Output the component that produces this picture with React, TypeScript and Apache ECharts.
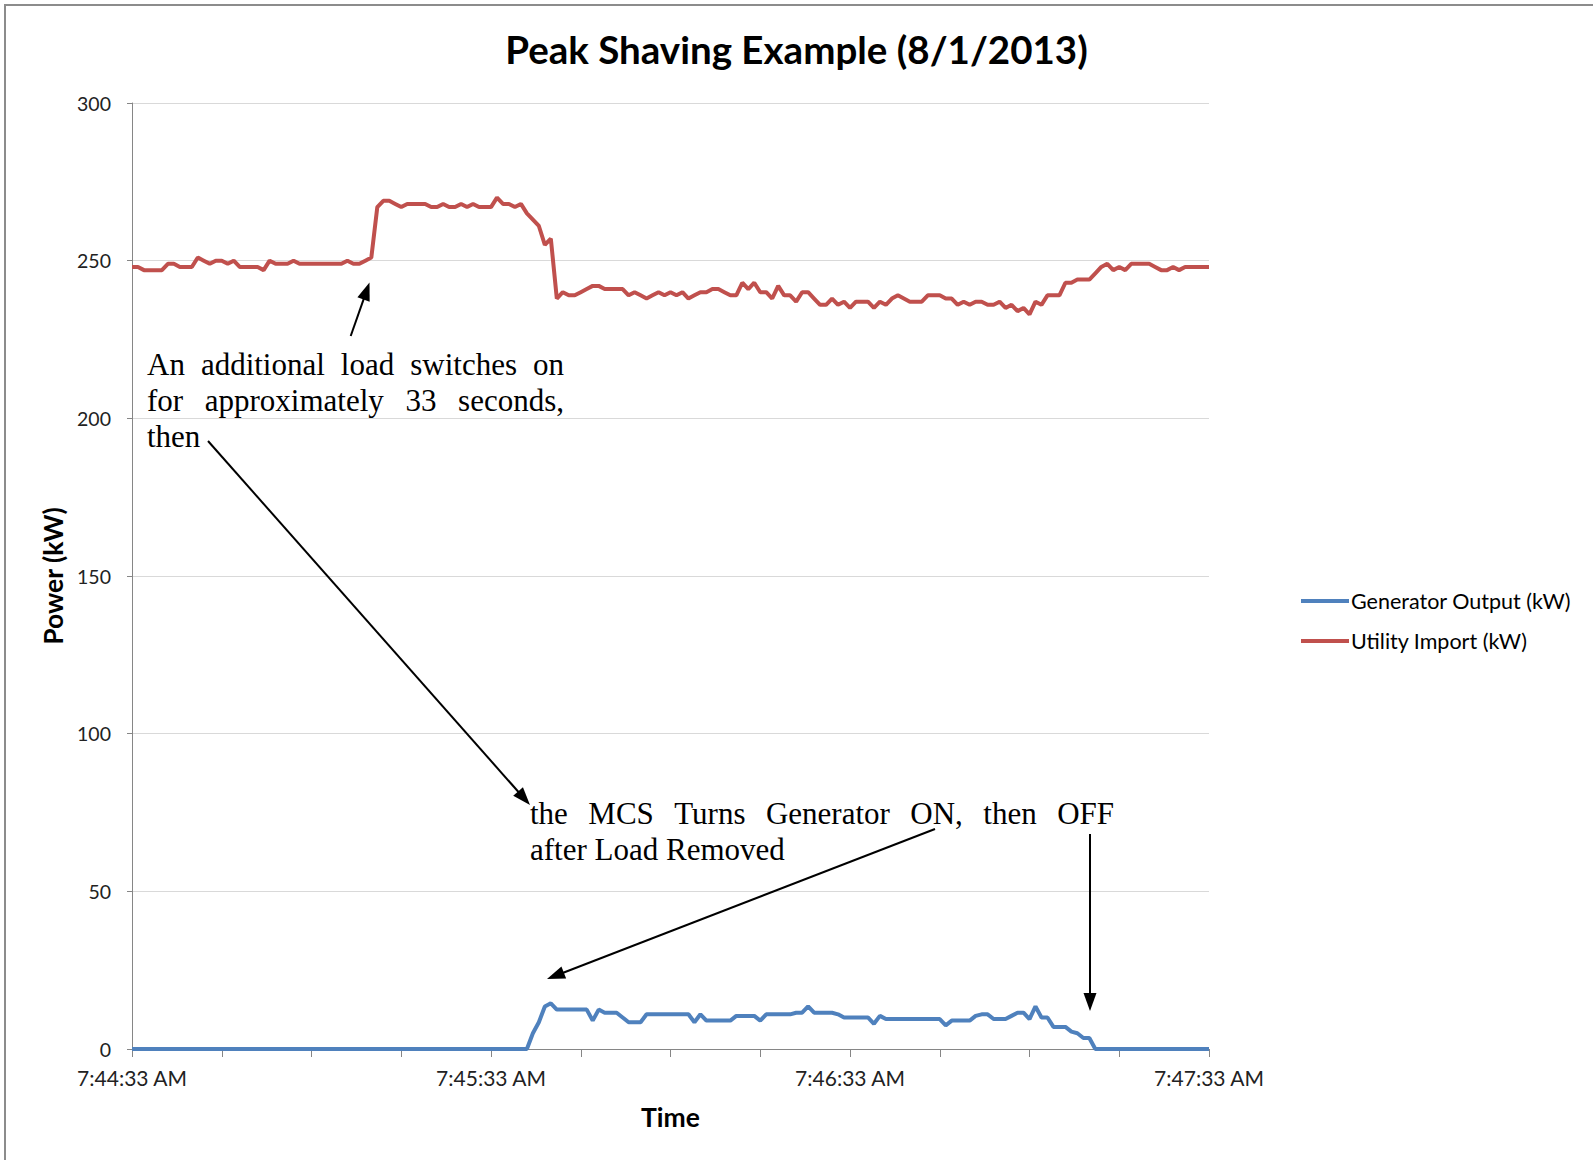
import React, { useEffect, useRef } from "react";
import * as echarts from "echarts";

// ---------- DATA ----------
const START_TIME = "7:44:33 AM";
const seconds: number[] = Array.from({ length: 181 }, (_, i) => i);

const generatorOutput: number[] = [
  0, 0, 0, 0, 0, 0, 0, 0, 0, 0, 0, 0, 0, 0, 0, 0, 0, 0, 0, 0,
  0, 0, 0, 0, 0, 0, 0, 0, 0, 0, 0, 0, 0, 0, 0, 0, 0, 0, 0, 0,
  0, 0, 0, 0, 0, 0, 0, 0, 0, 0, 0, 0, 0, 0, 0, 0, 0, 0, 0, 0,
  0, 0, 0, 0, 0, 0, 0, 5, 8.5, 13.5, 14.5, 12.5, 12.5, 12.5, 12.5, 12.5, 12.5, 9, 12.5, 11.5,
  11.5, 11.5, 10, 8.5, 8.5, 8.5, 11, 11, 11, 11, 11, 11, 11, 11, 8.5, 11, 9, 9, 9, 9,
  9, 10.5, 10.5, 10.5, 10.5, 9, 11, 11, 11, 11, 11, 11.5, 11.5, 13.5, 11.5, 11.5, 11.5, 11.5, 11, 10,
  10, 10, 10, 10, 8, 10.5, 9.5, 9.5, 9.5, 9.5, 9.5, 9.5, 9.5, 9.5, 9.5, 9.5, 7.5, 9, 9, 9,
  9, 10.5, 11, 11, 9.5, 9.5, 9.5, 10.5, 11.5, 11.5, 9.5, 13.5, 10, 10, 7, 7, 7, 5.5, 5, 3.5,
  3.5, 0, 0, 0, 0, 0, 0, 0, 0, 0, 0, 0, 0, 0, 0, 0, 0, 0, 0, 0,
  0,
];

const utilityImport: number[] = [
  248, 248, 247, 247, 247, 247, 249, 249, 248, 248, 248, 251, 250, 249, 250, 250, 249, 250, 248, 248,
  248, 248, 247, 250, 249, 249, 249, 250, 249, 249, 249, 249, 249, 249, 249, 249, 250, 249, 249, 250,
  251, 267, 269, 269, 268, 267, 268, 268, 268, 268, 267, 267, 268, 267, 267, 268, 267, 268, 267, 267,
  267, 270, 268, 268, 267, 268, 265, 263, 261, 255, 257, 238, 240, 239, 239, 240, 241, 242, 242, 241,
  241, 241, 241, 239, 240, 239, 238, 239, 240, 239, 240, 239, 240, 238, 239, 240, 240, 241, 241, 240,
  239, 239, 243, 241, 243, 240, 240, 238, 242, 239, 239, 237, 240, 240, 238, 236, 236, 238, 236, 237,
  235, 237, 237, 237, 235, 237, 236, 238, 239, 238, 237, 237, 237, 239, 239, 239, 238, 238, 236, 237,
  236, 237, 237, 236, 236, 237, 235, 236, 234, 235, 233, 237, 236, 239, 239, 239, 243, 243, 244, 244,
  244, 246, 248, 249, 247, 248, 247, 249, 249, 249, 249, 248, 247, 247, 248, 247, 248, 248, 248, 248,
  248,
];

const yTicks: number[] = [0, 50, 100, 150, 200, 250, 300];

const note1Lines: string[] = [
  "An additional load switches on",
  "for approximately 33 seconds,",
  "then",
];
const note2Lines: string[] = [
  "the MCS Turns Generator ON, then OFF",
  "after Load Removed",
];

// ---------- HELPERS ----------
function parseStart(s: string): number {
  const [time, ap] = s.split(" ");
  const [h, m, sec] = time.split(":").map(Number);
  let hh = h % 12;
  if (ap === "PM") hh += 12;
  return hh * 3600 + m * 60 + sec;
}
function fmtTime(total: number): string {
  let h = Math.floor(total / 3600);
  const m = Math.floor((total % 3600) / 60);
  const s = total % 60;
  const ap = h >= 12 ? "PM" : "AM";
  h = h % 12;
  if (h === 0) h = 12;
  return `${h}:${String(m).padStart(2, "0")}:${String(s).padStart(2, "0")} ${ap}`;
}
const startSec = parseStart(START_TIME);
const timeLabels = seconds.map((i) => fmtTime(startSec + i));

const NOTE_FONT_SIZE = 31;
const NOTE_FAMILY = "'Liberation Serif', 'Times New Roman', serif";

let measureCtx: CanvasRenderingContext2D | null = null;
function measure(t: string): number {
  if (!measureCtx) {
    const c = document.createElement("canvas");
    measureCtx = c.getContext("2d");
  }
  if (!measureCtx) return t.length * NOTE_FONT_SIZE * 0.45;
  measureCtx.font = `${NOTE_FONT_SIZE}px ${NOTE_FAMILY}`;
  return measureCtx.measureText(t).width;
}

function noteBlock(lines: string[], x: number, yCenter0: number, width: number, lineGap: number) {
  const els: any[] = [];
  lines.forEach((line, li) => {
    const y = yCenter0 + li * lineGap;
    const words = line.split(" ");
    const last = li === lines.length - 1;
    if (last || words.length < 2) {
      els.push(textEl(line, x, y));
      return;
    }
    const widths = words.map(measure);
    const total = widths.reduce((a, b) => a + b, 0);
    const gap = (width - total) / (words.length - 1);
    let cx = x;
    words.forEach((w, i) => {
      els.push(textEl(w, cx, y));
      cx += widths[i] + gap;
    });
  });
  return els;
}

function textEl(text: string, x: number, y: number) {
  return {
    type: "text",
    x,
    y,
    z: 100,
    style: {
      text,
      fill: "#000",
      fontSize: NOTE_FONT_SIZE,
      fontFamily: NOTE_FAMILY,
      align: "left",
      verticalAlign: "middle",
      textAlign: "left",
      textVerticalAlign: "middle",
    },
  };
}

function arrow(x1: number, y1: number, x2: number, y2: number, headLen = 18, headW = 13) {
  const dx = x2 - x1;
  const dy = y2 - y1;
  const L = Math.hypot(dx, dy);
  const ux = dx / L;
  const uy = dy / L;
  const bx = x2 - ux * headLen;
  const by = y2 - uy * headLen;
  const px = -uy;
  const py = ux;
  return [
    {
      type: "line",
      z: 100,
      shape: { x1, y1, x2: bx + ux * 2, y2: by + uy * 2 },
      style: { stroke: "#000", lineWidth: 2 },
    },
    {
      type: "polygon",
      z: 100,
      shape: {
        points: [
          [x2, y2],
          [bx + (px * headW) / 2, by + (py * headW) / 2],
          [bx - (px * headW) / 2, by - (py * headW) / 2],
        ],
      },
      style: { fill: "#000" },
    },
  ];
}

const SANS = "Lato, 'Noto Sans', sans-serif";

export default function App() {
  const ref = useRef<HTMLDivElement>(null);
  useEffect(() => {
    if (!ref.current) return;
    const chart = echarts.init(ref.current, undefined, { renderer: "svg" });
    const graphics: any[] = [
      {
        type: "rect",
        z: -1,
        shape: { x: 5, y: 5, width: 1700, height: 1300 },
        style: { fill: "none", stroke: "#8c8c8c", lineWidth: 2 },
      },
      ...noteBlock(note1Lines, 147, 364, 417, 36),
      ...noteBlock(note2Lines, 530, 813, 584, 36),
      ...arrow(350.7, 336, 369.5, 282.5),
      ...arrow(208, 441, 530, 805),
      ...arrow(935, 829, 547, 979),
      ...arrow(1090, 834, 1090, 1011),
    ];
    chart.setOption({
      animation: false,
      backgroundColor: "#fff",
      title: {
        text: "Peak Shaving Example (8/1/2013)",
        left: "center",
        top: 24,
        textStyle: { fontFamily: SANS, fontWeight: "bold", fontSize: 38.5, color: "#000" },
      },
      legend: {
        orient: "vertical",
        left: 1296,
        top: 585,
        icon: "rect",
        itemWidth: 48,
        itemHeight: 4,
        itemGap: 18,
        textStyle: { fontFamily: SANS, fontSize: 21.5, color: "#000", padding: [0, 0, 0, -3] },
        data: ["Generator Output (kW)", "Utility Import (kW)"],
      },
      grid: { left: 132, top: 103, width: 1077, height: 946 },
      xAxis: {
        type: "category",
        data: timeLabels,
        boundaryGap: false,
        name: "Time",
        nameLocation: "middle",
        nameGap: 54,
        nameTextStyle: { fontFamily: SANS, fontWeight: "bold", fontSize: 26.5, color: "#000" },
        axisLine: { show: true, lineStyle: { color: "#868686", width: 1 } },
        axisTick: { show: true, interval: 14, length: 8, inside: false, lineStyle: { color: "#868686" } },
        axisLabel: {
          interval: 59,
          margin: 18,
          fontFamily: SANS,
          fontSize: 21,
          color: "#222",
        },
        splitLine: { show: false },
      },
      yAxis: {
        type: "value",
        min: yTicks[0],
        max: yTicks[yTicks.length - 1],
        interval: 50,
        name: "Power (kW)",
        nameLocation: "middle",
        nameGap: 66,
        nameTextStyle: { fontFamily: SANS, fontWeight: "bold", fontSize: 26.5, color: "#000" },
        axisLine: { show: true, lineStyle: { color: "#868686", width: 1 } },
        axisTick: { show: true, length: 5, lineStyle: { color: "#868686" } },
        axisLabel: { margin: 21, fontFamily: SANS, fontSize: 19.5, color: "#222" },
        splitLine: { show: true, lineStyle: { color: "#D9D9D9", width: 1 } },
      },
      series: [
        {
          name: "Generator Output (kW)",
          type: "line",
          data: generatorOutput,
          showSymbol: false,
          symbol: "none",
          itemStyle: { color: "#4F81BD" },
          lineStyle: { color: "#4F81BD", width: 4 },
        },
        {
          name: "Utility Import (kW)",
          type: "line",
          data: utilityImport,
          showSymbol: false,
          symbol: "none",
          itemStyle: { color: "#C0504D" },
          lineStyle: { color: "#C0504D", width: 4 },
        },
      ],
      graphic: graphics,
    });
    return () => chart.dispose();
  }, []);
  return (
    <div
      ref={ref}
      style={{ position: "fixed", left: 0, top: 0, width: 1593, height: 1160, background: "#fff" }}
    />
  );
}
